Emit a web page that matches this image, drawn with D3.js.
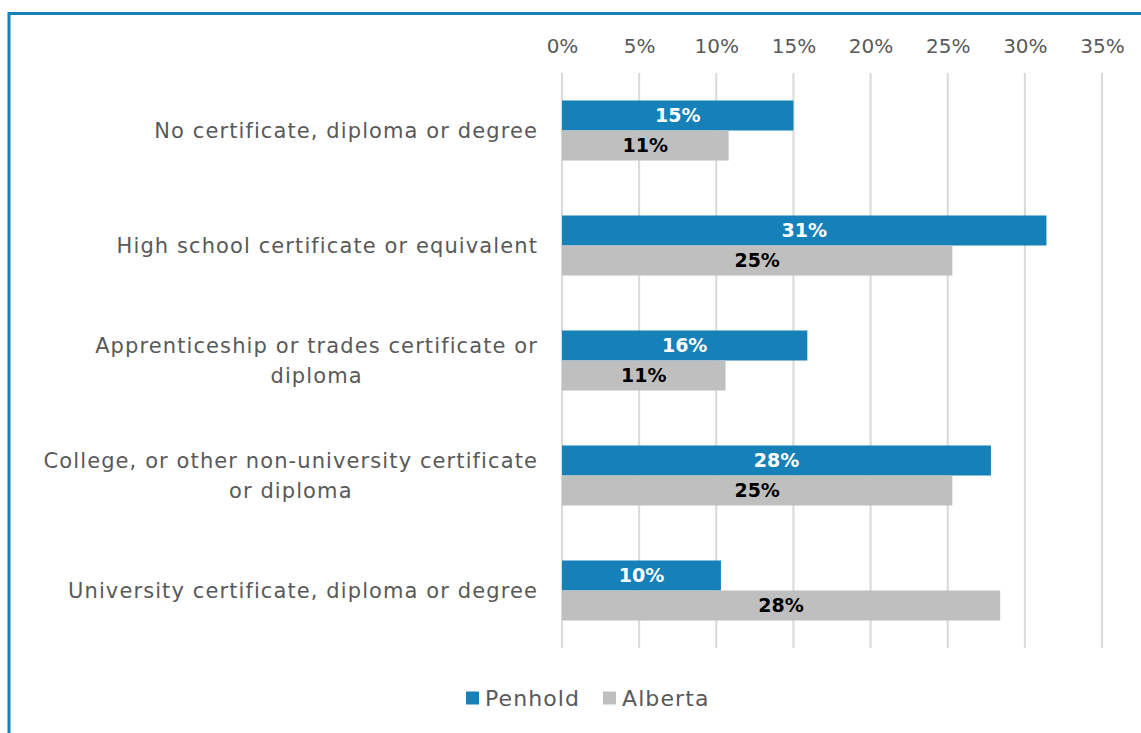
<!DOCTYPE html>
<html>
<head>
<meta charset="utf-8">
<title>Highest level of education</title>
<script src="https://cdn.jsdelivr.net/npm/d3@7"></script>
<style>
  body, html {margin:0;padding:0;background:#fff;overflow:hidden;}
  svg text {font-family:"DejaVu Sans", sans-serif;}
</style>
</head>
<body>
<div id="chart"></div>
<script>
// categories (lines split as shown in the chart)
var categories = [
  ["No certificate, diploma or degree"],
  ["High school certificate or equivalent"],
  ["Apprenticeship or trades certificate or", "diploma"],
  ["College, or other non-university certificate", "or diploma"],
  ["University certificate, diploma or degree"]
];
var seriesNames = ["Penhold", "Alberta"];
var penhold = [15.0, 31.4, 15.9, 27.8, 10.3];
var alberta = [10.8, 25.3, 10.6, 25.3, 28.4];
var ticks = [0, 5, 10, 15, 20, 25, 30, 35];
var colors = ["#1680B8", "#BFBFBF"];
var labelColors = ["#ffffff", "#000000"];

var W = 1141, H = 733;
var svg = d3.select("#chart").append("svg").attr("width", W).attr("height", H);

// frame
svg.append("path")
  .attr("d", "M9," + H + "V13.5H" + W)
  .attr("fill", "none").attr("stroke", "#1680B8").attr("stroke-width", 3);

var x = d3.scaleLinear().domain([0, 35]).range([562, 1102]);
var y = d3.scaleBand().domain(d3.range(categories.length)).range([73, 648]).paddingInner(0.478).paddingOuter(0.239);
var sub = d3.scaleBand().domain(d3.range(seriesNames.length)).range([0, y.bandwidth()]);

// gridlines
svg.append("g").selectAll("line").data(ticks).enter().append("line")
  .attr("x1", d => x(d)).attr("x2", d => x(d))
  .attr("y1", 73).attr("y2", 648)
  .attr("stroke", "#D9D9D9").attr("stroke-width", 2);

// top axis labels
var axis = d3.axisTop(x).tickValues(ticks).tickFormat(d => d + "%").tickSize(0).tickPadding(0);
var ax = svg.append("g").attr("transform", "translate(0,53)").call(axis);
ax.select(".domain").remove();
ax.selectAll("text").attr("font-size", 20).attr("fill", "#595959")
  .style("font-family", "\"DejaVu Sans\", sans-serif");

// bars
var rows = categories.map((c, i) => [penhold[i], alberta[i]]);
var g = svg.append("g").selectAll("g").data(rows).enter().append("g")
  .attr("transform", (d, i) => "translate(0," + y(i) + ")");
g.selectAll("rect").data(d => d).enter().append("rect")
  .attr("x", x(0)).attr("y", (d, j) => sub(j))
  .attr("width", d => x(d) - x(0)).attr("height", sub.bandwidth())
  .attr("fill", (d, j) => colors[j]);
g.selectAll("text.val").data(d => d).enter().append("text")
  .attr("class", "val")
  .attr("x", d => (x(0) + x(d)) / 2).attr("y", (d, j) => sub(j) + sub.bandwidth() / 2)
  .attr("dy", "0.36em").attr("text-anchor", "middle")
  .attr("font-size", 19).attr("font-weight", "bold")
  .attr("fill", (d, j) => labelColors[j])
  .text(d => Math.round(d) + "%");

// category labels: block right-aligned, lines centred in the block
categories.forEach(function (lines, i) {
  var cy = y(i) + y.bandwidth() / 2;
  var t = svg.append("text").attr("font-size", 21).attr("fill", "#595959")
    .attr("text-anchor", "middle").style("letter-spacing", "1.1px");
  var spans = lines.map((l, k) => t.append("tspan").text(l)
    .attr("y", cy + (k - (lines.length - 1) / 2) * 30).attr("dy", "0.36em"));
  var w = d3.max(spans, s => s.node().getComputedTextLength());
  spans.forEach(s => s.attr("x", 538 - w / 2));
});

// legend
var leg = svg.append("g").attr("transform", "translate(466,698)");
var items = [{n: seriesNames[0], x: 0}, {n: seriesNames[1], x: 137}];
items.forEach(function (it, j) {
  leg.append("rect").attr("x", it.x).attr("y", -6.5).attr("width", 13).attr("height", 13).attr("fill", colors[j]);
  leg.append("text").attr("x", it.x + 19).attr("y", 0).attr("dy", "0.36em")
    .attr("font-size", 22).style("letter-spacing", "1.1px")
    .attr("fill", "#595959").text(it.n);
});
</script>
</body>
</html>
